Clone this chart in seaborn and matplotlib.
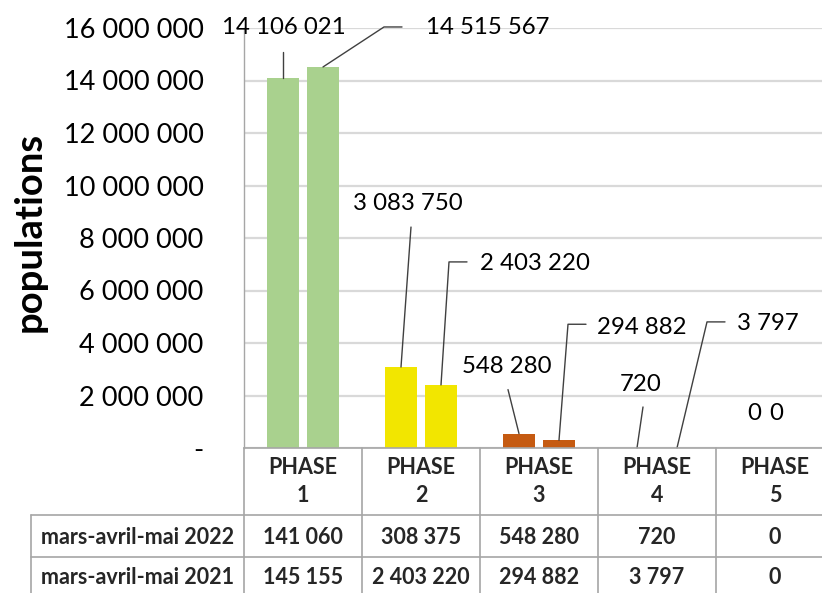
import numpy as np
import pandas as pd
import matplotlib
matplotlib.use("Agg")
import matplotlib.pyplot as plt
from matplotlib.ticker import FuncFormatter
from matplotlib.lines import Line2D
import seaborn as sns

# ---- data ----
phases = ["PHASE\n1", "PHASE\n2", "PHASE\n3", "PHASE\n4", "PHASE\n5"]
years = ["mars-avril-mai 2022", "mars-avril-mai 2021"]
values_2022 = [14106021, 3083750, 548280, 720, 0]
values_2021 = [14515567, 2403220, 294882, 3797, 0]
table_2022 = [141060, 308375, 548280, 720, 0]
table_2021 = [145155, 2403220, 294882, 3797, 0]
phase_colors = ["#A9D18E", "#F2E600", "#C55A11", "#7F7F7F", "#7F7F7F"]
y_ticks = [0, 2000000, 4000000, 6000000, 8000000, 10000000, 12000000, 14000000, 16000000]
y_label = "populations"

df = pd.DataFrame({
    "phase": phases * 2,
    "year": [years[0]] * 5 + [years[1]] * 5,
    "value": values_2022 + values_2021,
})

def fmt(v):
    return f"{int(v):,}".replace(",", " ")

sns.set_style("white")
plt.rcParams["font.family"] = ["Lato", "DejaVu Sans"]

W, H = 822, 593
fig = plt.figure(figsize=(W / 100, H / 100), dpi=100)
# axes: plot area from x=244 to 834 px, y 28 to 448 px (image rows)
ax = fig.add_axes([244 / W, (H - 448) / H, 590 / W, 420 / H])

sns.barplot(data=df, x="phase", y="value", hue="year", order=phases,
            hue_order=years, ax=ax, width=0.678, gap=0.2, legend=False,
            errorbar=None, saturation=1)

for cont in ax.containers:
    for i, bar in enumerate(cont):
        bar.set_facecolor(phase_colors[i])
        bar.set_edgecolor("none")

ax.set_xlim(-0.5, 4.5)
ax.set_ylim(0, 16000000)
ax.set_yticks(y_ticks)
ax.yaxis.set_major_formatter(FuncFormatter(lambda v, p: "-" if v == 0 else fmt(v)))
ax.tick_params(axis="y", length=0, pad=29, labelsize=19.5, labelcolor="#000000")
ax.set_xticks(range(5))
ax.set_xticklabels([""] * 5)
ax.tick_params(axis="x", length=0)
ax.set_xlabel("")
ax.set_ylabel("")
ax.yaxis.grid(True, color="#D9D9D9", lw=1.6)
ax.set_axisbelow(True)
for s in ["top", "right"]:
    ax.spines[s].set_visible(False)
ax.spines["left"].set_color("#A6A6A6")
ax.spines["bottom"].set_color("#A6A6A6")
ax.spines["left"].set_linewidth(1.0)
ax.spines["bottom"].set_linewidth(1.2)

fig.text(30 / W, 1 - 232 / H, y_label, rotation=90, ha="center", va="center",
         fontsize=27.5, fontweight="bold", color="#000000")

# ---- data labels with leader lines (offsets in pixels from bar top) ----
label_layout = {
    (0, 0): ((1, 50), [(0, 0), (0, 26)]),
    (1, 0): ((165, 39), [(0, 0), (61, 40), (79, 40)]),
    (0, 1): ((7, 164), [(0, 0), (10, 140)]),
    (1, 1): ((94, 121), [(0, 0), (8, 123), (26, 123)]),
    (0, 2): ((-12, 67), [(0, 0), (-11, 44)]),
    (1, 2): ((83, 113), [(0, 0), (9, 116), (27, 116)]),
    (0, 3): ((4, 63), [(0, 0), (6, 41)]),
    (1, 3): ((91, 124), [(0, 0), (30, 126), (48, 126)]),
    (0, 4): ((-1, 34), None),
    (1, 4): ((-19, 34), None),
}

inv = ax.transData.inverted()
for h, cont in enumerate(ax.containers):
    for i, bar in enumerate(cont):
        xc = bar.get_x() + bar.get_width() / 2
        top = bar.get_height()
        (dx, dy), leader = label_layout[(h, i)]
        ax.annotate(fmt(top), xy=(xc, top), xytext=(dx, dy),
                    textcoords="offset pixels", ha="center", va="center",
                    fontsize=17.3, color="#000000", annotation_clip=False)
        if leader:
            px, py = ax.transData.transform((xc, top))
            pts = np.array([(px + ox, py + oy) for ox, oy in leader])
            dpts = inv.transform(pts)
            ax.add_line(Line2D(dpts[:, 0], dpts[:, 1], color="#404040",
                               lw=1.0, clip_on=False))

# ---- table below the chart ----
tax = fig.add_axes([244 / W, 0, 590 / W, 145 / H])
tax.set_xlim(-0.5, 4.5)
tax.set_ylim(145, 0)
tax.axis("off")
unit = 118.0
left_edge = -0.5 - 213 / unit
lc = "#A6A6A6"
for b in np.arange(-0.5, 5.0, 1.0):
    tax.add_line(Line2D([b, b], [0, 150], color=lc, lw=1.2, clip_on=False))
tax.add_line(Line2D([left_edge, left_edge], [67, 150], color=lc, lw=1.2, clip_on=False))
for yy in [67, 109]:
    tax.add_line(Line2D([left_edge, 4.6], [yy, yy], color=lc, lw=1.2, clip_on=False))

tfs = 15.5
for i, ph in enumerate(phases):
    tax.text(i, 33.5, ph, ha="center", va="center", fontsize=tfs,
             fontweight="bold", linespacing=1.4, clip_on=False)
    tax.text(i, 89, fmt(table_2022[i]), ha="center", va="center",
             fontsize=tfs, fontweight="bold", clip_on=False)
    tax.text(i, 130, fmt(table_2021[i]), ha="center", va="center",
             fontsize=tfs, fontweight="bold", clip_on=False)
for yy, yr in zip([89, 130], years):
    tax.text((left_edge + -0.5) / 2, yy, yr, ha="center", va="center",
             fontsize=tfs, fontweight="bold", clip_on=False)

fig.savefig("out.png", dpi=100)
